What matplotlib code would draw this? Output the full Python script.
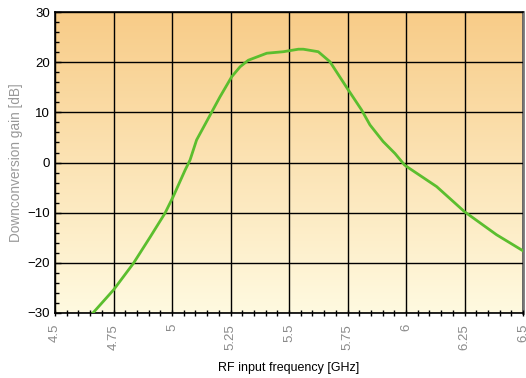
import numpy as np
import matplotlib
matplotlib.use("Agg")
import matplotlib.pyplot as plt
from matplotlib.colors import LinearSegmentedColormap
from matplotlib.ticker import MultipleLocator

plt.rcParams['font.family'] = ['Liberation Sans', 'DejaVu Sans']

freq = [4.662, 4.75, 4.835, 4.906, 4.970, 5.005, 5.056, 5.077, 5.105, 5.169,
        5.205, 5.255, 5.291, 5.326, 5.405, 5.476, 5.540, 5.561, 5.625, 5.675,
        5.753, 5.810, 5.846, 5.902, 5.953, 5.994, 6.003, 6.131, 6.25, 6.387, 6.5]
gain = [-30.0, -25.4, -20.1, -14.9, -10.1, -6.8, -1.5, 0.5, 4.5, 10.0,
        13.1, 17.1, 19.1, 20.4, 21.8, 22.1, 22.6, 22.6, 22.1, 20.1,
        14.5, 10.5, 7.5, 4.2, 1.8, -0.5, -0.8, -4.8, -9.8, -14.4, -17.6]
xticks = [4.5, 4.75, 5, 5.25, 5.5, 5.75, 6, 6.25, 6.5]
xlabels = ['4.5', '4.75', '5', '5.25', '5.5', '5.75', '6', '6.25', '6.5']
yticks = [-30, -20, -10, 0, 10, 20, 30]

fig = plt.figure(figsize=(5.26, 3.78), dpi=100)
ax = fig.add_axes([0.1046, 0.172, 0.8897, 0.796])

# Hintergrund-Verlauf oben orange, unten hellgelb
cmap = LinearSegmentedColormap.from_list('bg', ['#FFFAE0', '#F8CC88'])
grad = np.linspace(0, 1, 256).reshape(-1, 1)
ax.imshow(grad, cmap=cmap, origin='lower', aspect='auto',
          extent=[4.5, 6.5, -30, 30], zorder=0)

ax.plot(freq, gain, color='#5BBE2E', lw=2, zorder=3)

ax.set_xlim(4.5, 6.5)
ax.set_ylim(-30, 30)
ax.set_xticks(xticks)
ax.set_xticklabels(xlabels, rotation=90, color='#8a8a8a', fontsize=9.5)
ax.set_yticks(yticks)
ax.tick_params(axis='y', labelsize=9.5, colors='black')
ax.xaxis.set_minor_locator(MultipleLocator(0.05))
ax.yaxis.set_minor_locator(MultipleLocator(2))
ax.tick_params(which='both', direction='in', length=3, width=1)
ax.tick_params(which='major', length=4)
ax.tick_params(axis='x', which='both', direction='inout', length=4, pad=6)
ax.grid(True, which='major', color='black', lw=1, zorder=2)
ax.set_axisbelow(False)

for s in ax.spines.values():
    s.set_linewidth(1.2)
ax.spines['right'].set_color('#777777')
ax.spines['right'].set_linewidth(2)

ax.set_xlabel('RF input frequency [GHz]', fontsize=9, labelpad=9)
ax.set_ylabel('Downconversion gain [dB]', fontsize=9.8, color='#999999', labelpad=3)

fig.savefig('out.png', dpi=100)
